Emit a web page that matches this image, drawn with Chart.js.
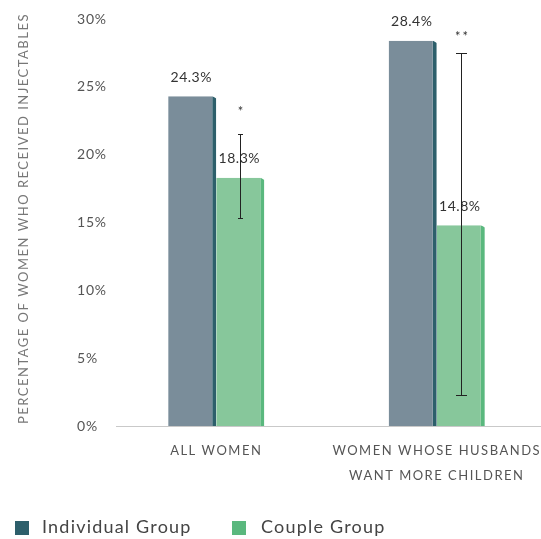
<!DOCTYPE html>
<html>
<head>
<meta charset="utf-8">
<script src="https://cdn.jsdelivr.net/npm/chart.js@4.4.1/dist/chart.umd.min.js"></script>
<style>
  html, body { margin: 0; padding: 0; background: #fff; overflow: hidden; }
  #wrap { position: relative; width: 547px; height: 539px; }
</style>
</head>
<body>
<div id="wrap"><canvas id="chart"></canvas></div>
<script>
// Share of women who received injectables, by study arm
const categories = ['ALL WOMEN', ['WOMEN WHOSE HUSBANDS', 'WANT MORE CHILDREN']];
const seriesNames = ['Individual Group', 'Couple Group'];
const individualValues = [24.3, 28.4];
const coupleValues = [18.3, 14.8];
const coupleErrorLow = [15.3, 2.3];
const coupleErrorHigh = [21.5, 27.5];
const coupleSignificance = ['*', '**'];
const yTickValues = [0, 5, 10, 15, 20, 25, 30];
const yAxisTitle = 'PERCENTAGE OF WOMEN WHO RECEIVED INJECTABLES';

const FONT = 'Lato, "Open Sans", "DejaVu Sans", sans-serif';
const errorCapHalf = [2.5, 5.5];
const markerLift = [23, 17];
const sideWidth = 4;

// Axes whose tick labels are drawn with a little tracking
class SpacedCategoryScale extends Chart.CategoryScale {
  drawLabels(chartArea) {
    const ctx = this.ctx;
    ctx.save();
    ctx.letterSpacing = '1.5px';
    super.drawLabels(chartArea);
    ctx.restore();
  }
}
SpacedCategoryScale.id = 'spacedCategory';
SpacedCategoryScale.defaults = Chart.CategoryScale.defaults;

class SpacedLinearScale extends Chart.LinearScale {
  drawLabels(chartArea) {
    const ctx = this.ctx;
    ctx.save();
    ctx.letterSpacing = '0.8px';
    super.drawLabels(chartArea);
    ctx.restore();
  }
}
SpacedLinearScale.id = 'spacedLinear';
SpacedLinearScale.defaults = Chart.LinearScale.defaults;
Chart.register(SpacedCategoryScale, SpacedLinearScale);

// Baseline, bevelled bar tops, value labels, error bars, axis title and legend
const decorations = {
  id: 'decorations',
  beforeDatasetsDraw(chart) {
    const { ctx, scales: { y } } = chart;
    const yy = Math.round(y.getPixelForValue(0)) + 0.5;
    ctx.save();
    ctx.strokeStyle = '#c9c9c9';
    ctx.lineWidth = 1.2;
    ctx.beginPath();
    ctx.moveTo(116, yy);
    ctx.lineTo(chart.width, yy);
    ctx.stroke();
    ctx.restore();
  },
  afterDatasetsDraw(chart) {
    const { ctx, scales: { y } } = chart;
    ctx.save();
    // cut the top corner of each side face so the bars read as blocks
    ctx.fillStyle = '#fff';
    chart.data.datasets.forEach((ds, di) => {
      chart.getDatasetMeta(di).data.forEach(bar => {
        const r = bar.x + bar.width / 2;
        ctx.beginPath();
        ctx.moveTo(r - sideWidth - 0.5, bar.y - 0.5);
        ctx.lineTo(r + 0.5, bar.y - 0.5);
        ctx.lineTo(r + 0.5, bar.y + 2.5);
        ctx.closePath();
        ctx.fill();
      });
    });
    // value labels
    ctx.font = '14px ' + FONT;
    ctx.fillStyle = '#333';
    ctx.textAlign = 'center';
    ctx.textBaseline = 'middle';
    ctx.letterSpacing = '0.5px';
    chart.data.datasets.forEach((ds, di) => {
      chart.getDatasetMeta(di).data.forEach((bar, i) => {
        ctx.fillText(ds.data[i].toFixed(1) + '%', bar.x - 1, bar.y - 19);
      });
    });
    ctx.letterSpacing = '0px';
    // error bars on the couple group
    ctx.strokeStyle = '#222';
    ctx.lineWidth = 1;
    chart.getDatasetMeta(1).data.forEach((bar, i) => {
      const x = Math.round(bar.x) + 0.5;
      const yt = Math.round(y.getPixelForValue(coupleErrorHigh[i])) + 0.5;
      const yb = Math.round(y.getPixelForValue(coupleErrorLow[i])) + 0.5;
      const c = errorCapHalf[i];
      ctx.beginPath();
      ctx.moveTo(x, yt); ctx.lineTo(x, yb);
      ctx.moveTo(x - c, yt); ctx.lineTo(x + c, yt);
      ctx.moveTo(x - c, yb); ctx.lineTo(x + c, yb);
      ctx.stroke();
      ctx.font = '13px ' + FONT;
      ctx.fillStyle = '#333';
      ctx.letterSpacing = '2px';
      ctx.fillText(coupleSignificance[i], x + 1, yt - markerLift[i]);
      ctx.letterSpacing = '0px';
    });
    ctx.restore();
  },
  afterDraw(chart) {
    const { ctx, chartArea } = chart;
    ctx.save();
    // vertical axis title
    ctx.translate(24, (chartArea.top + chartArea.bottom) / 2 - 4);
    ctx.rotate(-Math.PI / 2);
    ctx.font = '13px ' + FONT;
    ctx.fillStyle = '#777';
    ctx.letterSpacing = '1.5px';
    ctx.textAlign = 'center';
    ctx.textBaseline = 'middle';
    ctx.fillText(yAxisTitle, 0, 0);
    ctx.restore();

    // legend
    ctx.save();
    const items = [{ box: 15, text: 42 }, { box: 232, text: 261 }];
    ctx.font = '18px ' + FONT;
    ctx.textBaseline = 'middle';
    ctx.textAlign = 'left';
    ctx.letterSpacing = '1.2px';
    chart.data.datasets.forEach((ds, i) => {
      ctx.fillStyle = ds.borderColor;
      ctx.fillRect(items[i].box, 521, 14, 14);
      ctx.fillStyle = '#444';
      ctx.fillText(ds.label, items[i].text, 527);
    });
    ctx.restore();
  }
};

new Chart(document.getElementById('chart'), {
  type: 'bar',
  data: {
    labels: categories,
    datasets: [
      {
        label: seriesNames[0],
        data: individualValues,
        backgroundColor: '#7a8d9a',
        borderColor: '#2d5f6b',
        borderWidth: { top: 0, right: sideWidth, bottom: 0, left: 0 },
        categoryPercentage: 0.436,
        barPercentage: 1.0
      },
      {
        label: seriesNames[1],
        data: coupleValues,
        backgroundColor: '#87c79b',
        borderColor: '#5ab87e',
        borderWidth: { top: 0, right: sideWidth, bottom: 0, left: 0 },
        categoryPercentage: 0.436,
        barPercentage: 1.0
      }
    ]
  },
  options: {
    responsive: true,
    maintainAspectRatio: false,
    animation: false,
    layout: { padding: { left: 77, right: 0, top: 19, bottom: 39 } },
    plugins: {
      legend: { display: false },
      tooltip: { enabled: false }
    },
    scales: {
      x: {
        type: 'spacedCategory',
        grid: { display: false, drawTicks: false },
        border: { display: false },
        ticks: {
          color: '#555',
          font: { family: FONT, size: 13, lineHeight: 1.92 },
          padding: 12,
          maxRotation: 0,
          autoSkip: false
        }
      },
      y: {
        type: 'spacedLinear',
        min: 0,
        max: 30,
        grid: { display: false, drawTicks: false },
        border: { display: false },
        afterBuildTicks(scale) {
          scale.ticks = yTickValues.map(v => ({ value: v }));
        },
        afterFit(scale) { scale.width = 29; },
        ticks: {
          color: '#555',
          crossAlign: 'far',
          font: { family: FONT, size: 14 },
          callback: v => v + '%'
        }
      }
    }
  },
  plugins: [decorations]
});
</script>
</body>
</html>
